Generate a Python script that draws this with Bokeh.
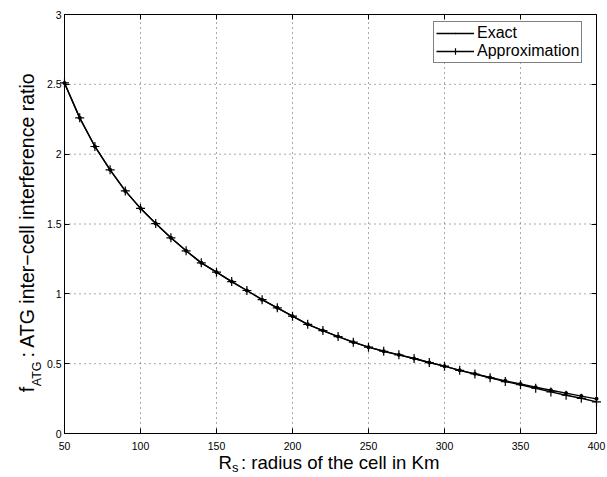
import math
from bokeh.plotting import figure
from bokeh.models import (Range1d, FixedTicker, LinearAxis, Legend, LegendItem, Label)
from bokeh.embed import file_html
from bokeh.resources import INLINE

# ---- data ----
radius_km = [50, 60, 70, 80, 90, 100, 110, 120, 130, 140, 150, 160, 170, 180,
             190, 200, 210, 220, 230, 240, 250, 260, 270, 280, 290, 300, 310,
             320, 330, 340, 350, 360, 370, 380, 390, 400]
exact = [2.51, 2.26, 2.055, 1.888, 1.737, 1.612, 1.503, 1.401, 1.308, 1.222,
         1.155, 1.088, 1.024, 0.958, 0.900, 0.840, 0.782, 0.737, 0.694, 0.654,
         0.618, 0.589, 0.563, 0.537, 0.508, 0.482, 0.452, 0.427, 0.401, 0.377,
         0.355, 0.332, 0.310, 0.289, 0.268, 0.248]
approximation = [2.51, 2.26, 2.055, 1.888, 1.737, 1.612, 1.503, 1.401, 1.308, 1.222,
                 1.155, 1.088, 1.024, 0.958, 0.900, 0.840, 0.782, 0.737, 0.694, 0.654,
                 0.618, 0.589, 0.563, 0.537, 0.508, 0.482, 0.452, 0.426, 0.399, 0.372,
                 0.349, 0.324, 0.298, 0.274, 0.252, 0.226]
x_ticks = [50, 100, 150, 200, 250, 300, 350, 400]
y_ticks = [0, 0.5, 1, 1.5, 2, 2.5, 3]

FONT = "Liberation Sans"
W, H = 607, 477
# box (axes area) position on the canvas, in pixels
BOX_L, BOX_R, BOX_T, BOX_B = 64, 596, 14, 433

x0, x1 = x_ticks[0], x_ticks[-1]
y0, y1 = y_ticks[0], y_ticks[-1]
kx = (x1 - x0) / (BOX_R - BOX_L)
ky = (y1 - y0) / (BOX_B - BOX_T)

p = figure(width=W, height=H, output_backend="svg", toolbar_location=None,
           x_range=Range1d(x0 - BOX_L * kx, x1 + (W - BOX_R) * kx),
           y_range=Range1d(y0 - (H - BOX_B) * ky, y1 + BOX_T * ky))
p.min_border = 0
p.background_fill_color = "white"
p.border_fill_color = "white"
p.outline_line_color = None
p.grid.visible = False

def style_axis(ax, labels=True):
    ax.axis_line_color = "black"
    ax.axis_line_width = 1
    ax.major_tick_in = 5
    ax.major_tick_out = 0
    ax.major_tick_line_color = "black"
    ax.minor_tick_line_color = None
    ax.major_label_text_font = FONT
    ax.major_label_text_font_size = "10.5px"
    ax.major_label_text_color = "black" if labels else None

xa = p.xaxis[0]
ya = p.yaxis[0]
xa.ticker = FixedTicker(ticks=x_ticks)
ya.ticker = FixedTicker(ticks=y_ticks)
xa.fixed_location = y0
ya.fixed_location = x0
xa.bounds = (x0, x1)
ya.bounds = (y0, y1)
style_axis(xa)
style_axis(ya)
xa.major_label_standoff = 8
ya.major_label_standoff = 3

top_ax = LinearAxis(ticker=FixedTicker(ticks=x_ticks), fixed_location=y1, bounds=(x0, x1))
right_ax = LinearAxis(ticker=FixedTicker(ticks=y_ticks), fixed_location=x1, bounds=(y0, y1))
style_axis(top_ax, labels=False)
style_axis(right_ax, labels=False)
p.add_layout(top_ax, "above")
p.add_layout(right_ax, "right")

# dotted grid inside the box, at the tick positions
p.segment(x0=x_ticks, y0=[y0] * len(x_ticks), x1=x_ticks, y1=[y1] * len(x_ticks),
          line_color="#555555", line_dash="1 4", line_width=1)
p.segment(x0=[x0] * len(y_ticks), y0=y_ticks, x1=[x1] * len(y_ticks), y1=y_ticks,
          line_color="#555555", line_dash="1 4", line_width=1)

l1 = p.line(radius_km, exact, line_color="black", line_width=1.4)
s1 = p.scatter(radius_km, exact, marker="dot", size=16, fill_color="black",
               line_color="black")
l2 = p.line(radius_km, approximation, line_color="black", line_width=1.4)
s2 = p.scatter(radius_km, approximation, marker="cross", size=9,
               line_color="black", line_width=1.2)

legend = Legend(items=[LegendItem(label="Exact", renderers=[l1, s1]),
                       LegendItem(label="Approximation", renderers=[l2, s2])],
                location=(433, H - 63))
legend.margin = 0
legend.padding = 2
legend.spacing = 0
legend.glyph_width = 38
legend.glyph_height = 16
legend.label_height = 16
legend.label_standoff = 3
legend.label_text_font = FONT
legend.label_text_font_size = "16px"
legend.label_text_color = "black"
legend.border_line_color = "black"
legend.border_line_width = 1
legend.background_fill_color = "white"
legend.background_fill_alpha = 1
p.add_layout(legend)

# ---- axis labels with subscripts (screen px from the canvas' lower-left) ----
XL = 18.6
p.add_layout(Label(x=218, y=H - 462, x_units="screen", y_units="screen", text="R",
                   text_font=FONT, text_font_size=f"{XL}px", text_color="black",
                   text_baseline="alphabetic", text_align="left"))
p.add_layout(Label(x=231.5, y=H - 467, x_units="screen", y_units="screen", text="s",
                   text_font=FONT, text_font_size="13px", text_color="black",
                   text_baseline="alphabetic", text_align="left"))
p.add_layout(Label(x=240.5, y=H - 462, x_units="screen", y_units="screen",
                   text=": radius of the cell in Km",
                   text_font=FONT, text_font_size=f"{XL}px", text_color="black",
                   text_baseline="alphabetic", text_align="left"))

YL = 19.5
ang = math.pi / 2
p.add_layout(Label(x=26.5, y=H - 391.7, x_units="screen", y_units="screen", text="f",
                   angle=ang, text_font=FONT, text_font_size=f"{YL}px",
                   text_color="black", text_baseline="alphabetic", text_align="left"))
p.add_layout(Label(x=36, y=H - 385.7, x_units="screen", y_units="screen", text="ATG",
                   angle=ang, text_font=FONT, text_font_size="12.5px",
                   text_color="black", text_baseline="alphabetic", text_align="left"))
p.add_layout(Label(x=26.5, y=H - 357, x_units="screen", y_units="screen",
                   text=": ATG inter\u2212cell interference ratio",
                   angle=ang, text_font=FONT, text_font_size=f"{YL}px",
                   text_color="black", text_baseline="alphabetic", text_align="left"))

open("out.html", "w").write(file_html(p, INLINE))
